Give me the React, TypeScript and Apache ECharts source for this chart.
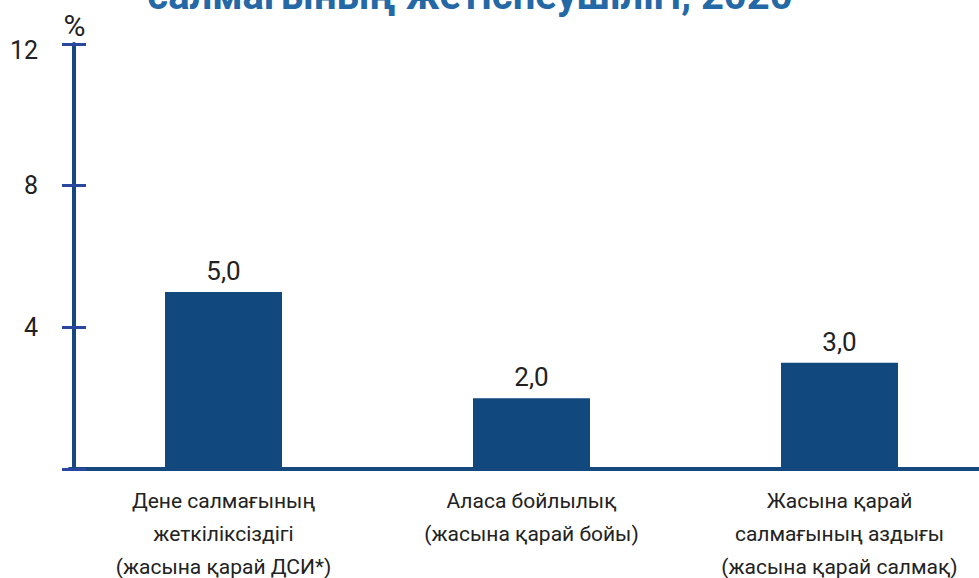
import React, { useEffect, useRef } from "react";
import * as echarts from "echarts";

const titleText = "салмағының жетіспеушілігі, 2020";
const categories = [
  "Дене салмағының\nжеткіліксіздігі\n(жасына қарай ДСИ*)",
  "Аласа бойлылық\n(жасына қарай бойы)",
  "Жасына қарай\nсалмағының аздығы\n(жасына қарай салмақ)",
];
const values = [5.0, 2.0, 3.0];
const yMin = 0;
const yMax = 12;
const yInterval = 4;
const unitLabel = "%";

const barColor = "#11497f";
const axisColor = "#14487f";
const tickColor = "#2a47a0";
const textColor = "#222222";
const font = "Roboto, 'Noto Sans', sans-serif";

export default function App() {
  const ref = useRef<HTMLDivElement>(null);
  useEffect(() => {
    if (!ref.current) return;
    const chart = echarts.init(ref.current, null, { renderer: "svg", width: 979, height: 578 });
    const yCommon = {
      type: "value" as const,
      min: yMin,
      max: yMax,
      interval: yInterval,
      position: "left" as const,
      offset: -4.5,
      splitLine: { show: false },
    };
    chart.setOption({
      animation: false,
      textStyle: { fontFamily: font },
      graphic: [
        {
          type: "text",
          x: 470,
          y: -4.4,
          style: {
            text: titleText,
            align: "center",
            verticalAlign: "middle",
            font: "bold 40px " + font,
            fill: "#2468a6",
          },
        },
        {
          type: "text",
          x: 74.5,
          y: 25,
          style: {
            text: unitLabel,
            align: "center",
            verticalAlign: "middle",
            font: "30px " + font,
            fill: textColor,
          },
        },
      ],
      grid: {
        left: 69.5,
        top: 44,
        width: 924,
        height: 425,
        containLabel: false,
        outerBoundsMode: "none",
      },
      xAxis: {
        type: "category",
        data: categories,
        axisLine: { show: true, lineStyle: { color: axisColor, width: 4 } },
        axisTick: { show: false },
        axisLabel: {
          interval: 0,
          color: textColor,
          fontSize: 21,
          lineHeight: 33,
          margin: 15,
          fontFamily: font,
        },
      },
      yAxis: [
        {
          ...yCommon,
          axisLine: { show: true, lineStyle: { color: axisColor, width: 4 } },
          axisTick: { show: true, length: 12, lineStyle: { color: tickColor, width: 3 } },
          axisLabel: {
            color: textColor,
            fontSize: 25,
            margin: 36,
            fontFamily: font,
            formatter: (v: number) => (v === 0 ? "" : v === yMax ? "{t|" + v + "}" : String(v)),
            rich: {
              t: { fontSize: 25, color: textColor, fontFamily: font, padding: [12, 0, 0, 0] },
            },
          },
        },
        {
          ...yCommon,
          axisLine: { show: false },
          axisTick: { show: true, inside: true, length: 12, lineStyle: { color: tickColor, width: 3 } },
          axisLabel: { show: false },
        },
      ],
      series: [
        {
          type: "bar",
          data: values,
          barWidth: 117,
          itemStyle: { color: barColor },
          label: {
            show: true,
            position: "top",
            distance: 8,
            color: textColor,
            fontSize: 26,
            fontFamily: font,
            formatter: (p: any) => Number(p.value).toFixed(1).replace(".", ","),
          },
        },
      ],
    });
    return () => chart.dispose();
  }, []);
  return (
    <div
      style={{
        position: "fixed",
        left: 0,
        top: 0,
        width: 979,
        height: 578,
        overflow: "hidden",
        background: "#fff",
      }}
    >
      <div ref={ref} style={{ width: 979, height: 578, overflow: "hidden" }} />
    </div>
  );
}
